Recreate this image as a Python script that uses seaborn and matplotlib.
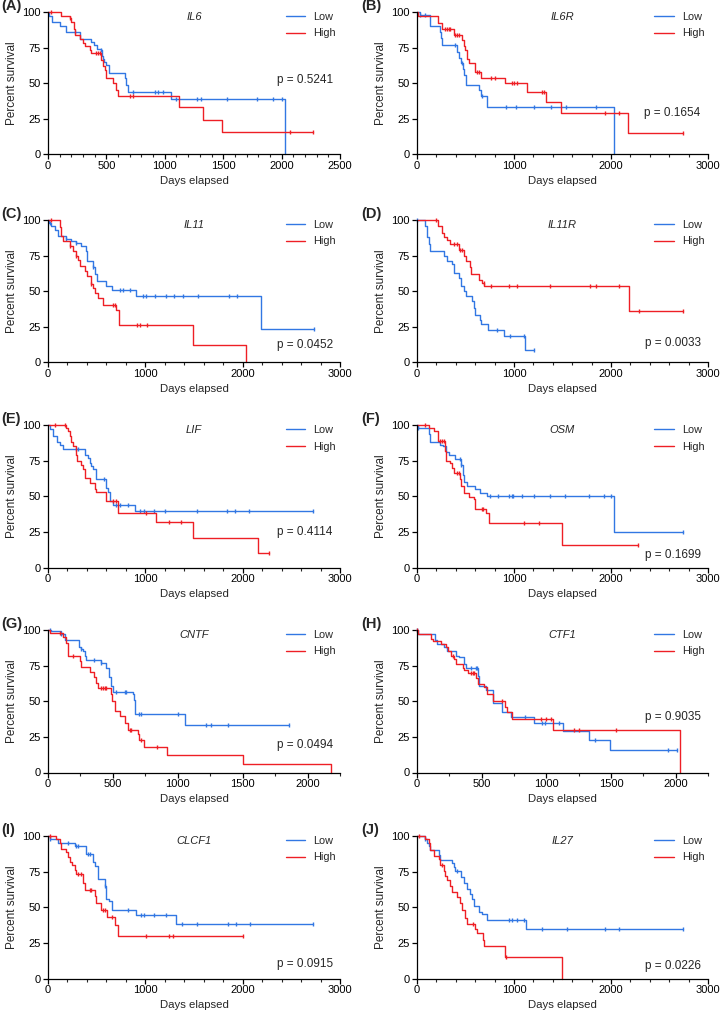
import numpy as np
import matplotlib
matplotlib.use("Agg")
import matplotlib.pyplot as plt
from matplotlib.ticker import MultipleLocator
import seaborn as sns

# ---- data: step times (days), survival (%) after each step, censor times ----
A_low_t = [0, 10, 30, 100, 157, 270, 370, 395, 420, 457, 465, 472, 480, 500, 520, 657, 671, 686, 1057, 2029]
A_low_s = [100, 97, 93, 90, 86, 81, 79, 77, 74, 73, 69, 67, 65, 63, 57, 54, 49, 44, 39, 0]
A_low_c = [229, 457, 729, 914, 943, 986, 1094, 1277, 1314, 1529, 1786, 1929, 2000]
A_high_t = [0, 114, 186, 200, 220, 229, 271, 300, 314, 357, 371, 457, 471, 491, 500, 557, 586, 600, 1123, 1323, 1486, 2271]
A_high_s = [100, 97, 96, 93, 88, 84, 81, 78, 76, 73, 71, 66, 62, 59, 54, 50, 45, 41, 33, 24, 16, 16]
A_high_c = [29, 186, 414, 428, 443, 700, 729, 2071, 2271]

B_low_t = [0, 27, 137, 240, 250, 255, 412, 436, 457, 470, 488, 505, 636, 660, 722, 2034]
B_low_s = [100, 98, 90, 86, 82, 77, 72, 68, 64, 60, 56, 49, 45, 41, 33, 0]
B_low_c = [27, 86, 388, 464, 670, 917, 1020, 1210, 1381, 1539, 1845]
B_high_t = [0, 10, 213, 258, 378, 464, 481, 498, 515, 533, 601, 660, 911, 1134, 1330, 1488, 2175, 2742]
B_high_s = [100, 97, 92, 88, 84, 80, 76, 73, 67, 64, 58, 54, 50, 44, 37, 29, 15, 15]
B_high_c = [292, 310, 327, 344, 395, 412, 429, 618, 636, 766, 800, 979, 1000, 1031, 1290, 1310, 1941, 2079, 2742]

C_low_t = [0, 10, 34, 69, 103, 189, 240, 292, 343, 388, 401, 463, 480, 504, 600, 662, 909, 2185, 2734]
C_low_s = [100, 98, 96, 93, 89, 87, 85, 84, 82, 78, 71, 67, 62, 57, 54, 51, 47, 23.5, 23.5]
C_low_c = [20, 189, 292, 463, 737, 772, 841, 978, 1002, 1098, 1208, 1290, 1386, 1544, 1856, 1942, 2734]
C_high_t = [0, 120, 137, 154, 223, 257, 285, 309, 326, 377, 401, 446, 463, 480, 514, 566, 703, 731, 1492, 2034]
C_high_s = [100, 95, 89, 85, 82, 78, 75, 72, 68, 64, 61, 55, 52, 49, 45, 40, 36.5, 26, 12.5, 0]
C_high_c = [34, 223, 292, 446, 672, 686, 917, 943, 1012]

D_low_t = [0, 86, 103, 120, 137, 275, 309, 361, 378, 436, 454, 488, 509, 567, 584, 601, 653, 660, 728, 893, 1117, 1209]
D_low_s = [100, 96, 88, 83, 78, 75, 71, 69, 63, 59, 54, 50, 47, 43, 38, 33.5, 30, 27, 23, 18.5, 9, 9]
D_low_c = [0, 825, 955, 1099, 1209]
D_high_t = [0, 213, 258, 282, 309, 344, 429, 481, 509, 550, 560, 636, 670, 694, 2182, 2742]
D_high_s = [100, 96, 91, 88, 86, 83, 79, 75, 71, 67, 62, 58, 56, 54, 36, 36]
D_high_c = [200, 378, 412, 447, 464, 687, 763, 945, 1031, 1374, 1787, 1849, 2079, 2285, 2742]

E_low_t = [0, 17, 51, 93, 120, 154, 377, 412, 436, 446, 463, 497, 600, 617, 634, 669, 891, 2727]
E_low_s = [100, 97, 92, 88, 86, 83, 79, 77, 73, 71, 69, 62, 56, 53, 47, 44, 40, 40]
E_low_c = [285, 309, 579, 703, 744, 823, 946, 987, 1090, 1201, 1533, 1835, 1924, 2068, 2727]
E_high_t = [0, 182, 206, 223, 240, 257, 285, 298, 343, 360, 377, 436, 480, 497, 593, 720, 1108, 1485, 2161, 2274]
E_high_s = [100, 98, 96, 92, 88, 85, 79, 75, 72, 69, 63, 59, 55, 53, 47, 38.5, 32, 21, 10.5, 10.5]
E_high_c = [69, 172, 665, 703, 1002, 1245, 1365, 2274]

F_low_t = [0, 7, 120, 137, 240, 268, 302, 326, 395, 457, 470, 488, 515, 601, 653, 722, 2034, 2742]
F_low_s = [100, 98, 94, 88, 86, 85, 81, 79, 76, 72, 65, 60, 57, 55, 52, 50, 25, 25]
F_low_c = [7, 447, 457, 756, 832, 945, 979, 989, 1086, 1203, 1367, 1525, 1776, 1927, 1996, 2742]
F_high_t = [0, 120, 172, 213, 292, 302, 344, 361, 378, 447, 457, 481, 533, 584, 601, 715, 739, 1495, 2275]
F_high_s = [100, 98, 96, 89, 82, 74.5, 73, 70, 66, 62, 57, 52, 49.5, 48, 41, 38, 31, 15.5, 15.5]
F_high_c = [86, 240, 258, 275, 412, 429, 670, 676, 1106, 1254, 2275]

G_low_t = [0, 26, 103, 128, 236, 251, 269, 282, 295, 410, 449, 467, 482, 500, 654, 661, 672, 1056, 1859]
G_low_s = [100, 99, 97, 93, 88, 87, 85, 82, 79, 76.5, 73.5, 67, 61, 56.5, 55, 51, 41, 33, 33]
G_low_c = [13, 103, 251, 354, 410, 525, 590, 603, 705, 718, 1000, 1218, 1256, 1385, 1859]
G_high_t = [0, 13, 115, 141, 154, 244, 251, 321, 354, 367, 385, 482, 492, 520, 551, 595, 615, 692, 705, 738, 918, 1500, 2179]
G_high_s = [100, 98, 95, 91, 81.5, 78, 74, 70.5, 67, 63, 59.5, 55, 50, 43, 40, 35, 30, 27, 23, 18, 12, 6, 0]
G_high_c = [90, 192, 410, 423, 436, 449, 628, 641, 718, 841]

H_low_t = [0, 10, 139, 154, 211, 231, 301, 326, 365, 378, 468, 481, 532, 584, 591, 661, 730, 905, 1131, 1329, 1496, 2010]
H_low_s = [100, 97.5, 93, 90, 88, 85.5, 82, 81, 76, 73.5, 68, 61, 58, 53, 48.5, 42.5, 39, 35, 29, 23, 15.5, 15.5]
H_low_c = [0, 417, 455, 463, 835, 966, 991, 1100, 1380, 1938, 2010]
H_high_t = [0, 10, 108, 121, 185, 224, 237, 262, 283, 301, 352, 365, 396, 455, 468, 519, 540, 584, 681, 699, 738, 1052, 2036]
H_high_s = [100, 97.5, 94, 92, 90, 88, 85, 82, 80, 76, 73, 72, 70, 66, 62, 60, 55, 50.5, 46, 42.5, 37.5, 30, 0]
H_high_c = [0, 275, 417, 430, 443, 661, 956, 995, 1034, 1213, 1252, 1535]

I_low_t = [0, 17, 103, 274, 388, 463, 480, 514, 583, 600, 628, 662, 909, 1314, 2727]
I_low_s = [100, 98, 95, 93, 87.5, 82, 79, 69.5, 65, 56, 54.5, 48, 44.5, 38, 38]
I_low_c = [17, 206, 292, 309, 412, 436, 583, 823, 960, 984, 1087, 1211, 1372, 1533, 1846, 1931, 2075, 2727]
I_high_t = [0, 86, 120, 130, 189, 206, 223, 250, 274, 292, 360, 377, 480, 497, 549, 607, 686, 720, 2006]
I_high_s = [100, 98, 95, 91, 89, 85, 82, 80, 76, 73, 67, 62, 58, 53, 48, 43.5, 37.5, 30, 30]
I_high_c = [17, 309, 343, 429, 446, 566, 583, 662, 1005, 1245, 1280, 2006]

J_low_t = [0, 86, 103, 120, 137, 223, 240, 361, 378, 395, 457, 481, 515, 550, 567, 591, 636, 670, 722, 1124, 2742]
J_low_s = [100, 98, 95, 93, 90, 87, 83, 81, 78, 75.5, 71, 67, 63, 59, 56, 51, 46.5, 45, 41, 34.5, 34.5]
J_low_c = [86, 412, 945, 979, 1031, 1099, 1289, 1546, 1941, 2085, 2742]
J_high_t = [0, 86, 120, 137, 172, 223, 240, 275, 292, 309, 344, 361, 412, 447, 464, 498, 515, 601, 618, 680, 694, 911, 1495]
J_high_s = [100, 98, 95, 90, 86, 84, 80, 75.5, 72, 69, 65, 61, 57, 53, 48, 42.5, 38, 35, 32, 27, 22.5, 15, 0]
J_high_c = [17, 258, 577, 917]

letters = ["A", "B", "C", "D", "E", "F", "G", "H", "I", "J"]
genes = ["IL6", "IL6R", "IL11", "IL11R", "LIF", "OSM", "CNTF", "CTF1", "CLCF1", "IL27"]
p_values = ["0.5241", "0.1654", "0.0452", "0.0033", "0.4114", "0.1699", "0.0494", "0.9035", "0.0915", "0.0226"]
x_max = [2500, 3000, 3000, 3000, 3000, 3000, 2250, 2250, 3000, 3000]

curves = {
    "A": (A_low_t, A_low_s, A_low_c, A_high_t, A_high_s, A_high_c),
    "B": (B_low_t, B_low_s, B_low_c, B_high_t, B_high_s, B_high_c),
    "C": (C_low_t, C_low_s, C_low_c, C_high_t, C_high_s, C_high_c),
    "D": (D_low_t, D_low_s, D_low_c, D_high_t, D_high_s, D_high_c),
    "E": (E_low_t, E_low_s, E_low_c, E_high_t, E_high_s, E_high_c),
    "F": (F_low_t, F_low_s, F_low_c, F_high_t, F_high_s, F_high_c),
    "G": (G_low_t, G_low_s, G_low_c, G_high_t, G_high_s, G_high_c),
    "H": (H_low_t, H_low_s, H_low_c, H_high_t, H_high_s, H_high_c),
    "I": (I_low_t, I_low_s, I_low_c, I_high_t, I_high_s, I_high_c),
    "J": (J_low_t, J_low_s, J_low_c, J_high_t, J_high_s, J_high_c),
}

# layout (pixels in a 720x1013 canvas)
W, H = 720, 1013
row_top = [12, 220, 425, 630, 836]
row_h = 142.5
col_left = [48, 417]
col_w = [292, 291]
p_y = [52, 29, 12, 14, 25, 9, 19, 39, 10, 9]

BLUE = "#3277e3"
RED = "#ee1f25"

sns.set_theme(style="ticks")
plt.rcParams["font.family"] = ["Liberation Sans", "DejaVu Sans"]
plt.rcParams["axes.linewidth"] = 0.9
plt.rcParams["xtick.major.width"] = 0.9
plt.rcParams["ytick.major.width"] = 0.9
plt.rcParams["xtick.minor.width"] = 0.8


def step_at(t, s, c):
    t = np.asarray(t, dtype=float)
    s = np.asarray(s, dtype=float)
    idx = np.searchsorted(t, np.asarray(c, dtype=float), side="right") - 1
    return s[np.clip(idx, 0, len(s) - 1)]


fig = plt.figure(figsize=(W / 100, H / 100), dpi=100)

for i, key in enumerate(letters):
    row, col = divmod(i, 2)
    left = col_left[col] / W
    bottom = 1 - (row_top[row] + row_h) / H
    ax = fig.add_axes([left, bottom, col_w[col] / W, row_h / H])
    lt, ls, lc, ht, hs, hc = curves[key]

    for t, s, c, color, name in [(lt, ls, lc, BLUE, "Low"), (ht, hs, hc, RED, "High")]:
        sns.lineplot(x=t, y=s, ax=ax, color=color, drawstyle="steps-post", lw=1.0,
                     sort=False, estimator=None, label=name, clip_on=False)
        ax.plot(c, step_at(t, s, c), ls="none", marker="|", ms=3, mew=1.0,
                color=color, clip_on=False)

    ax.set_xlim(0, x_max[i])
    ax.set_ylim(0, 100)
    ax.set_yticks([0, 25, 50, 75, 100])
    if x_max[i] == 2500:
        ax.xaxis.set_major_locator(MultipleLocator(500))
        ax.xaxis.set_minor_locator(MultipleLocator(100))
    elif x_max[i] == 2250:
        ax.xaxis.set_major_locator(MultipleLocator(500))
        ax.xaxis.set_minor_locator(MultipleLocator(250))
    else:
        ax.xaxis.set_major_locator(MultipleLocator(1000))
        ax.xaxis.set_minor_locator(MultipleLocator(200))
    ax.tick_params(axis="both", which="major", length=3.5, pad=1.5, labelsize=8, colors="black")
    ax.tick_params(axis="x", which="minor", length=2.2)
    sns.despine(ax=ax)
    for sp in ax.spines.values():
        sp.set_color("black")
    ax.set_xlabel("Days elapsed", fontsize=8.2, labelpad=3)
    ax.set_ylabel("Percent survival", fontsize=8.5, labelpad=3)

    ax.text(0.5, 0.965, genes[i], transform=ax.transAxes, ha="center", va="center",
            fontsize=8, style="italic")
    ax.text(0.975, p_y[i] / 100, "p = " + p_values[i], transform=ax.transAxes,
            ha="right", va="center", fontsize=8.5)
    ax.legend(loc="upper left", bbox_to_anchor=(0.815, 1.0), frameon=False, fontsize=7.8,
              handlelength=1.8, handletextpad=0.75, labelspacing=0.6,
              borderpad=0, borderaxespad=0)

    fig.text((1 if col == 0 else 361) / W, 1 - (row_top[row] - 6) / H, "(" + key + ")",
             ha="left", va="center", fontsize=10.5, fontweight="bold")

fig.savefig("out.png", dpi=100)
